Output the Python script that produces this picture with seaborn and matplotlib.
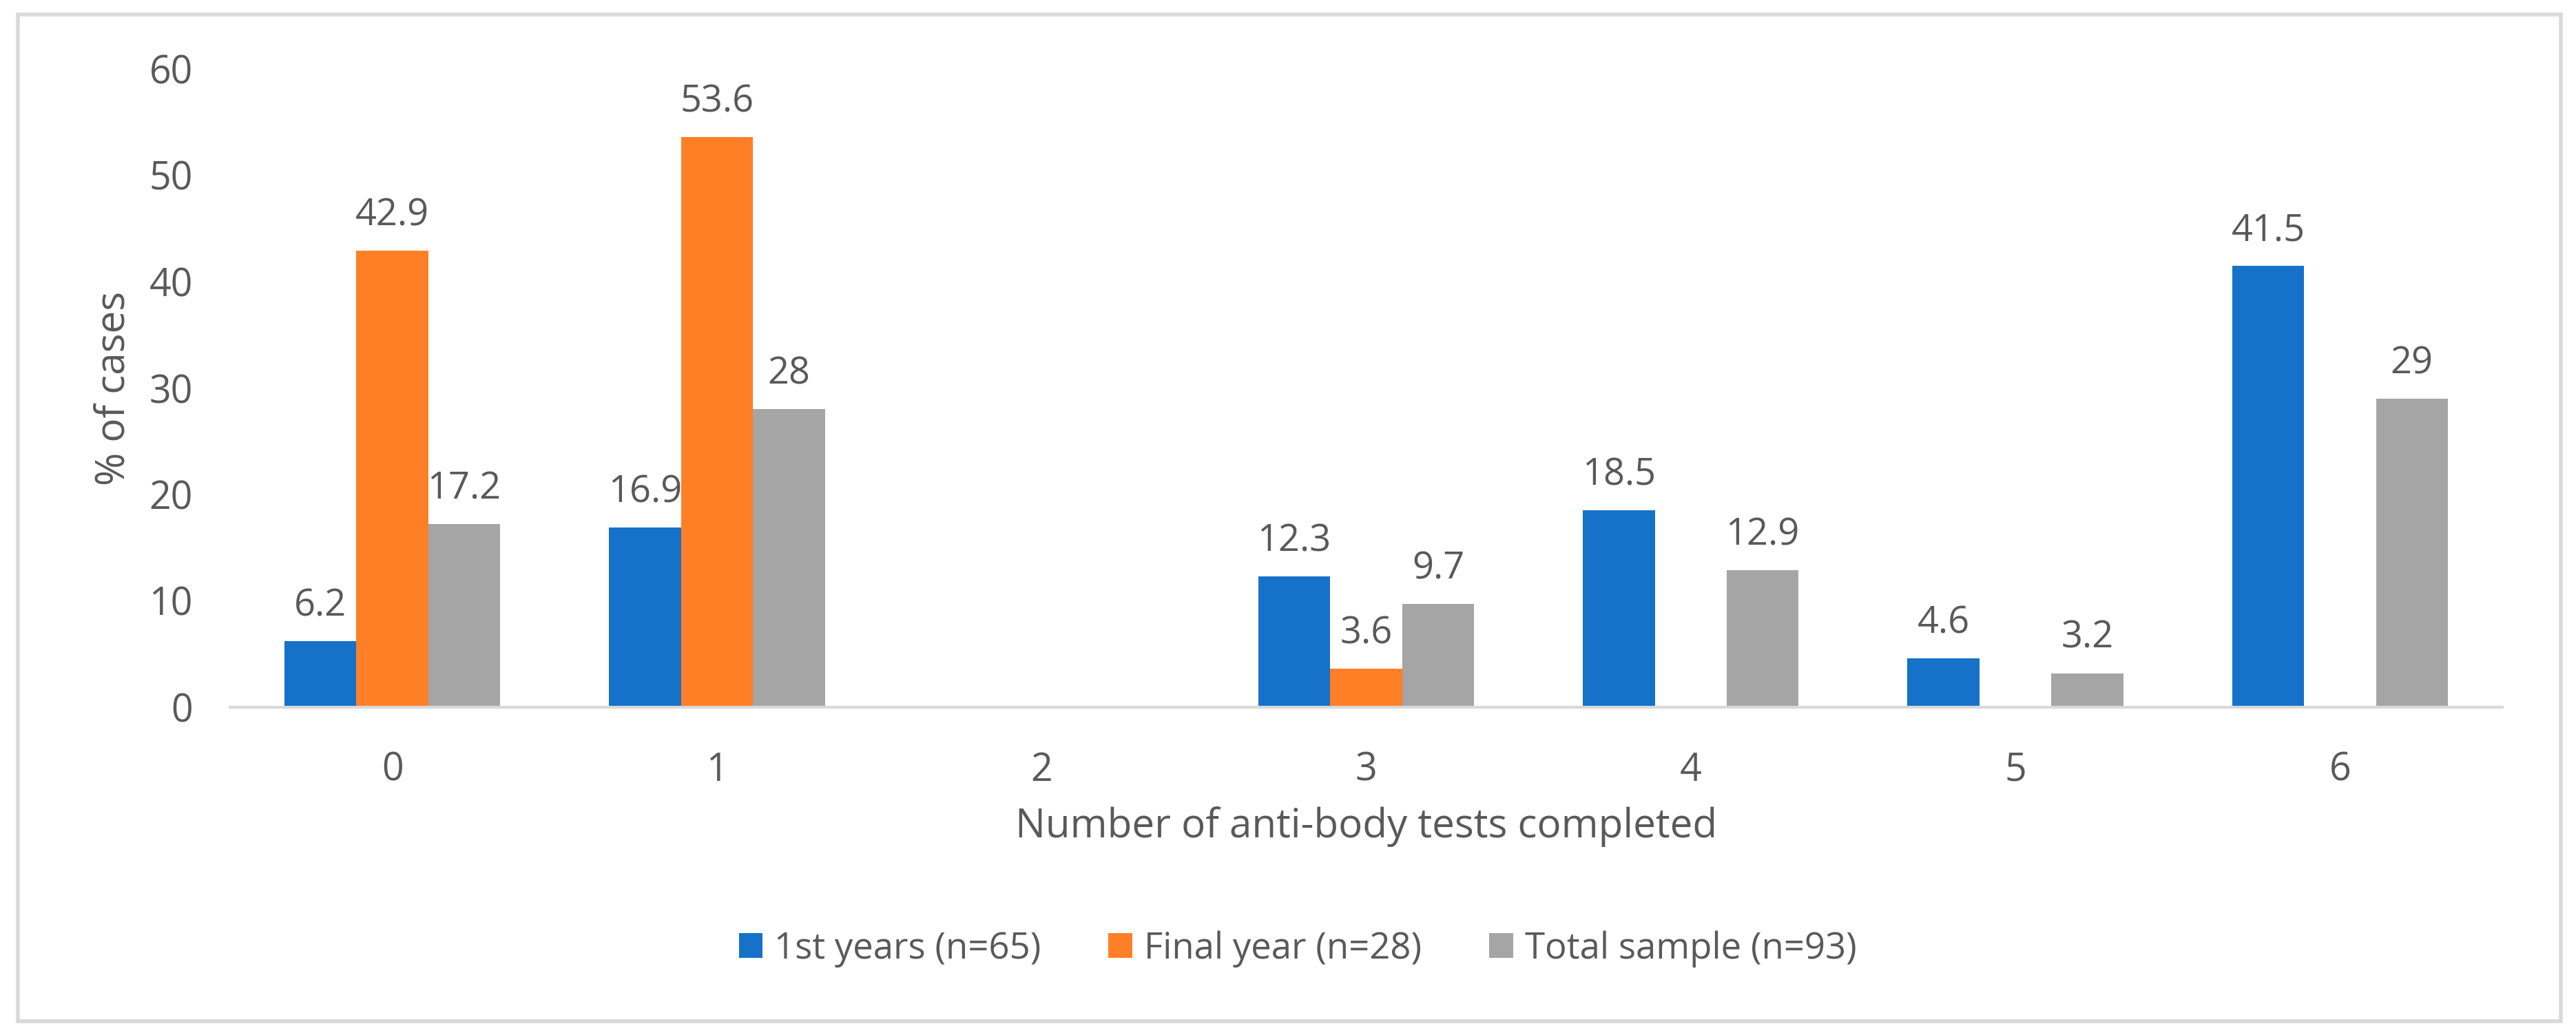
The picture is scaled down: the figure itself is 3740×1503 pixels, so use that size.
import matplotlib
matplotlib.use("Agg")
import matplotlib.pyplot as plt
from matplotlib.patches import Rectangle
import seaborn as sns
import pandas as pd
import numpy as np

categories = ["0", "1", "2", "3", "4", "5", "6"]
series_names = ["1st years (n=65)", "Final year (n=28)", "Total sample (n=93)"]
first_years = [6.2, 16.9, np.nan, 12.3, 18.5, 4.6, 41.5]
final_year = [42.9, 53.6, np.nan, 3.6, np.nan, np.nan, np.nan]
total_sample = [17.2, 28, np.nan, 9.7, 12.9, 3.2, 29]
colors = ["#1572C8", "#FF7F27", "#A5A5A5"]

rows = []
for name, vals in zip(series_names, [first_years, final_year, total_sample]):
    for c, v in zip(categories, vals):
        rows.append({"tests": c, "group": name, "pct": v})
df = pd.DataFrame(rows)

sns.set_style("white")
plt.rcParams["font.family"] = ["Open Sans", "DejaVu Sans"]
text_color = "#595959"

fig = plt.figure(figsize=(37.4, 15.03), dpi=100)
ax = fig.add_axes([334 / 3740, 1 - 1027 / 1503, (3633 - 334) / 3740, (1027 - 100) / 1503])

sns.barplot(data=df.dropna(), x="tests", y="pct", hue="group", order=categories,
            hue_order=series_names, palette=colors, width=0.665, saturation=1,
            errorbar=None, ax=ax, linewidth=0)

for cont in ax.containers:
    labels = []
    for b in cont:
        h = b.get_height()
        labels.append("" if (h is None or np.isnan(h)) else f"{h:g}")
    ax.bar_label(cont, labels=labels, padding=17, fontsize=39, color=text_color)

ax.set_ylim(0, 60)
ax.set_xlim(-0.5, 6.5)
ax.set_yticks(range(0, 61, 10))
ax.tick_params(axis="y", length=0, pad=39, labelsize=40, labelcolor=text_color)
ax.tick_params(axis="x", length=0, pad=46, labelsize=40, labelcolor=text_color)
for s in ["top", "right", "left"]:
    ax.spines[s].set_visible(False)
ax.spines["bottom"].set_color("#D9D9D9")
ax.spines["bottom"].set_linewidth(3)
ax.grid(False)

ax.set_xlabel("Number of anti-body tests completed", fontsize=42, color=text_color)
ax.xaxis.set_label_coords(0.5, -0.155)
ax.set_ylabel("% of cases", fontsize=42, color=text_color)
ax.yaxis.set_label_coords(-0.042, 0.5)

leg = ax.legend(loc="center", bbox_to_anchor=(1884 / 3740, 1 - 1378 / 1503),
                bbox_transform=fig.transFigure, ncol=3, frameon=False,
                fontsize=38, handlelength=0.66, handleheight=0.66,
                handletextpad=0.32, columnspacing=1.85)
for t in leg.get_texts():
    t.set_color(text_color)

fig.patches.append(Rectangle((26 / 3740, 1 - 1483 / 1503), (3718 - 26) / 3740, (1483 - 21) / 1503,
                             transform=fig.transFigure, fill=False, edgecolor="#D9D9D9",
                             linewidth=4, zorder=0))

fig.savefig("out.png", dpi=100, facecolor="white")
